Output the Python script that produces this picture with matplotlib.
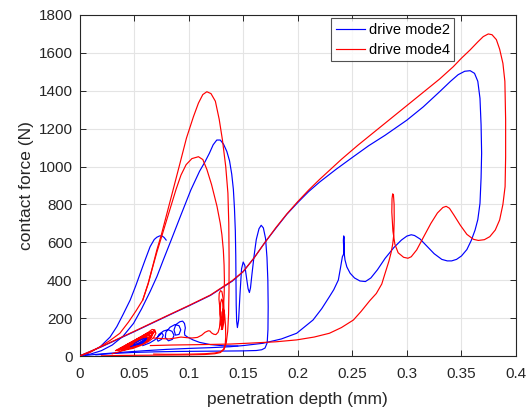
import matplotlib
matplotlib.use("Agg")
import matplotlib.pyplot as plt

plt.rcParams['font.family'] = ['Liberation Sans', 'DejaVu Sans']

BLUE = '#0000FF'
RED = '#FF0000'

# ---------------- drive mode2 (blue) ----------------
blue_main_x = [0, 0.02, 0.05, 0.08, 0.10, 0.12, 0.14, 0.15, 0.16, 0.17, 0.18, 0.19, 0.20, 0.21, 0.22,
               0.235, 0.25, 0.265, 0.28, 0.30, 0.315, 0.33, 0.34, 0.347, 0.353, 0.358, 0.362, 0.365,
               0.367, 0.368, 0.3685, 0.368, 0.367, 0.365, 0.3625, 0.359, 0.355, 0.350, 0.3455, 0.341,
               0.337, 0.332, 0.325, 0.318, 0.312, 0.307, 0.304, 0.300, 0.295, 0.288, 0.280, 0.273,
               0.267, 0.262, 0.257, 0.252, 0.248, 0.245, 0.2433, 0.2422, 0.2418, 0.2421, 0.2426,
               0.2427, 0.2422, 0.2409, 0.2390, 0.2372, 0.233, 0.229, 0.222, 0.214, 0.205, 0.199,
               0.185, 0.168, 0.150, 0.138, 0.12, 0.10, 0.08, 0.06, 0.04, 0.02, 0.005]
blue_main_y = [0, 48, 128, 210, 264, 320, 395, 445, 518, 600, 675, 748, 810, 868, 918,
               985, 1048, 1110, 1165, 1245, 1315, 1395, 1450, 1485, 1503, 1506, 1492, 1450,
               1360, 1220, 1070, 940, 806, 720, 665, 610, 562, 528, 510, 502,
               502, 510, 540, 582, 618, 636, 640, 633, 612, 572, 515, 455,
               412, 393, 396, 412, 437, 470, 507, 560, 610, 634, 625,
               580, 540, 524, 460, 401, 350, 313, 250, 190, 148, 120,
               90, 67, 55, 49, 44, 40, 35, 28, 20, 11, 3]

blue_first_x = [0, 0.008, 0.019, 0.028, 0.0342, 0.040, 0.0465, 0.0515, 0.0557, 0.060, 0.0647,
                0.0685, 0.0709, 0.0735, 0.0755, 0.0775, 0.0794]
blue_first_y = [0, 15, 49, 100, 155, 220, 296, 370, 437, 505, 577, 615, 627, 634, 634, 626, 612]

blue_second_x = [0, 0.01, 0.02, 0.03, 0.04, 0.0495, 0.057, 0.0647, 0.071, 0.077, 0.084, 0.093,
                 0.102, 0.110, 0.1150, 0.1190, 0.1225, 0.1258, 0.1290, 0.1320,
                 0.1350, 0.1375, 0.1395, 0.1410, 0.1420, 0.1428, 0.1432, 0.1434, 0.1436, 0.1440,
                 0.1447, 0.1458, 0.1470, 0.1485, 0.1500, 0.1515, 0.1530, 0.1545, 0.1557, 0.1567,
                 0.1580, 0.1600, 0.1620, 0.1645, 0.1665, 0.1685, 0.1705, 0.1718, 0.1726, 0.1729,
                 0.1727, 0.1720, 0.1700, 0.1670, 0.1620, 0.150, 0.130, 0.110, 0.090, 0.070,
                 0.050, 0.030, 0.015]
blue_second_y = [0, 10, 28, 58, 105, 172, 250, 340, 420, 510, 612, 745,
                 876, 975, 1025, 1070, 1115, 1140, 1140, 1118,
                 1080, 1030, 960, 880, 780, 660, 530, 400, 270, 185,
                 150, 190, 320, 460, 496, 478, 415, 355, 335, 360,
                 430, 530, 615, 672, 690, 676, 620, 520, 400, 260,
                 140, 70, 42, 33, 29, 27, 26, 25, 24, 22,
                 19, 13, 6]

blue_loops_x = [0.058, 0.064, 0.069, 0.0725, 0.0755, 0.0768, 0.0752, 0.0720, 0.0708, 0.0728,
                0.0770, 0.0812, 0.0848, 0.0866, 0.0852, 0.0815, 0.0786, 0.0792, 0.0830, 0.0875,
                0.0912, 0.0928, 0.0912, 0.0880, 0.0866, 0.0883, 0.0920, 0.0945, 0.0962, 0.0970,
                0.0962, 0.0965, 0.0990, 0.1040, 0.1100, 0.1200, 0.1320, 0.1450]
blue_loops_y = [55, 68, 85, 105, 121, 110, 88, 78, 92, 114,
                132, 139, 130, 110, 88, 80, 98, 126, 152, 166,
                160, 138, 114, 110, 138, 166, 181, 184, 172, 148,
                124, 110, 100, 85, 72, 60, 54, 53]

blue_inner_x = [0.047, 0.051, 0.055, 0.059, 0.0615, 0.0610, 0.0575, 0.0530, 0.0495, 0.0505,
                0.0545, 0.0590, 0.0605, 0.0580, 0.0535]
blue_inner_y = [50, 58, 70, 84, 94, 88, 75, 62, 58, 66, 80, 92, 84, 70, 60]

# ---------------- drive mode4 (red) ----------------
red_main_x = [0, 0.02, 0.05, 0.08, 0.10, 0.12, 0.14, 0.15, 0.16, 0.17, 0.18, 0.19, 0.20, 0.21,
              0.22, 0.23, 0.24, 0.255, 0.27, 0.285, 0.30, 0.315, 0.33, 0.3425, 0.35, 0.358, 0.365,
              0.370, 0.3746, 0.378, 0.382, 0.385, 0.388, 0.3898, 0.3905, 0.3905, 0.390, 0.388,
              0.385, 0.381, 0.376, 0.371, 0.3655, 0.361, 0.355, 0.349, 0.343, 0.339, 0.336, 0.333,
              0.328, 0.322, 0.315, 0.309, 0.304, 0.301, 0.297, 0.292, 0.289, 0.2872, 0.2862,
              0.2864, 0.2870, 0.2877, 0.2883, 0.2884, 0.2880, 0.2870, 0.2855, 0.2835, 0.280,
              0.277, 0.272, 0.266, 0.258, 0.251, 0.240, 0.229, 0.215, 0.199, 0.180, 0.160,
              0.138, 0.110, 0.085, 0.065]
red_main_y = [0, 50, 130, 212, 266, 322, 398, 446, 518, 600, 678, 750, 815, 876,
              932, 985, 1038, 1112, 1182, 1252, 1322, 1392, 1462, 1527, 1572, 1616, 1658,
              1686, 1700, 1696, 1670, 1620, 1545, 1450, 1246, 1050, 894, 800,
              718, 665, 630, 614, 610, 616, 642, 690, 745, 780, 790, 784,
              755, 700, 625, 560, 524, 516, 521, 545, 590, 660, 760,
              830, 856, 850, 800, 720, 640, 590, 545, 500, 436,
              380, 330, 292, 235, 190, 150, 120, 100, 85, 75, 69,
              63, 60, 58, 55]

red_peak1_x = [0, 0.010, 0.019, 0.028, 0.037, 0.045, 0.052, 0.058, 0.063, 0.067, 0.0709, 0.075,
               0.080, 0.085, 0.0922, 0.098, 0.1044, 0.109, 0.113, 0.1167, 0.1205,
               0.1245, 0.1280, 0.1310, 0.1340, 0.1360, 0.1368, 0.1371, 0.1370, 0.1366, 0.1358,
               0.1345, 0.1325, 0.1290, 0.1240, 0.1150, 0.1000, 0.0800, 0.0600, 0.0400, 0.0200]
red_peak1_y = [0, 20, 49, 82, 120, 180, 240, 296, 385, 472, 560, 640,
               750, 860, 1020, 1150, 1263, 1335, 1380, 1395, 1385,
               1345, 1250, 1140, 1000, 860, 700, 507, 350, 220, 130,
               70, 35, 18, 12, 8, 6, 5, 4, 3, 1]

red_peak2_x = [0.058, 0.063, 0.067, 0.071, 0.075, 0.080, 0.0885, 0.093, 0.0977, 0.1030,
               0.1090, 0.1130, 0.1167, 0.1210, 0.1260, 0.1290, 0.1305, 0.1318, 0.1325, 0.1328,
               0.1326, 0.1320, 0.1312, 0.1305, 0.1300]
red_peak2_y = [296, 382, 468, 550, 625, 720, 880, 955, 1010, 1042,
               1052, 1037, 985, 905, 790, 700, 640, 560, 480, 400,
               330, 260, 200, 160, 140]

red_wiggle_x = [0.068, 0.075, 0.082, 0.088, 0.093, 0.098, 0.103, 0.108, 0.112, 0.115, 0.118,
                0.1195, 0.121, 0.123, 0.125, 0.127, 0.1283, 0.1290, 0.1285, 0.1278, 0.1280,
                0.1292, 0.1305, 0.1317, 0.1325, 0.1322, 0.1310, 0.1298, 0.1290, 0.1293,
                0.1302, 0.1312, 0.1316, 0.1312, 0.1303, 0.1300, 0.1305, 0.1318, 0.1330,
                0.1338, 0.1340, 0.1335, 0.1320, 0.1290, 0.1240, 0.1150, 0.1020, 0.0900,
                0.0780, 0.0680]
red_wiggle_y = [95, 92, 90, 95, 100, 97, 95, 98, 110, 125, 133,
                132, 122, 115, 113, 125, 150, 200, 260, 300, 330,
                345, 340, 300, 240, 175, 140, 160, 220, 280,
                300, 285, 230, 170, 140, 180, 230, 250, 220,
                160, 100, 60, 35, 22, 16, 12, 10, 9,
                9, 10]

red_cluster_x = [0.030, 0.038, 0.046, 0.054, 0.060, 0.065, 0.0675, 0.0665, 0.0625, 0.0560,
                 0.0480, 0.0410, 0.0350, 0.0330, 0.0380, 0.0460, 0.0540, 0.0600, 0.0650,
                 0.0685, 0.0690, 0.0660, 0.0610, 0.0540, 0.0460, 0.0395, 0.0355, 0.0370,
                 0.0430, 0.0510, 0.0580, 0.0630, 0.0665, 0.0690, 0.0700, 0.0680, 0.0630,
                 0.0560, 0.0490, 0.0420, 0.0380, 0.0410, 0.0480, 0.0550, 0.0610, 0.0650,
                 0.0670, 0.0660, 0.0620, 0.0555, 0.0485, 0.0430, 0.0410, 0.0450, 0.0520,
                 0.0590, 0.0640, 0.0660, 0.0640, 0.0590, 0.0520, 0.0465, 0.0450, 0.0500,
                 0.0570, 0.0620, 0.0640, 0.0610, 0.0550, 0.0490, 0.0470, 0.0510, 0.0570,
                 0.0615]
red_cluster_y = [12, 25, 42, 62, 82, 102, 118, 128, 122, 100,
                 75, 52, 35, 28, 36, 55, 78, 100, 120,
                 135, 128, 112, 90, 68, 48, 34, 30, 40,
                 60, 85, 108, 125, 140, 138, 120, 98, 75,
                 55, 40, 32, 34, 48, 70, 92, 112, 122,
                 118, 100, 80, 60, 46, 40, 46, 62, 82,
                 100, 112, 104, 88, 70, 55, 50, 58, 75,
                 92, 100, 94, 80, 64, 56, 60, 76, 90,
                 95]

legend_labels = ['drive mode2', 'drive mode4']
x_ticks = [0, 0.05, 0.1, 0.15, 0.2, 0.25, 0.3, 0.35, 0.4]
x_tick_labels = ['0', '0.05', '0.1', '0.15', '0.2', '0.25', '0.3', '0.35', '0.4']
y_ticks = [0, 200, 400, 600, 800, 1000, 1200, 1400, 1600, 1800]

fig = plt.figure(figsize=(5.31, 4.09), dpi=100)
ax = fig.add_axes([79.5 / 531, 1 - 356 / 409, (516 - 79.5) / 531, (356 - 15) / 409])

lw = 0.85
hb, = ax.plot(blue_main_x, blue_main_y, color=BLUE, lw=lw, zorder=3)
ax.plot(blue_first_x, blue_first_y, color=BLUE, lw=lw, zorder=3)
ax.plot(blue_second_x, blue_second_y, color=BLUE, lw=lw, zorder=3)
ax.plot(blue_loops_x, blue_loops_y, color=BLUE, lw=lw, zorder=3)
ax.plot(blue_inner_x, blue_inner_y, color=BLUE, lw=lw, zorder=4)

hr, = ax.plot(red_main_x, red_main_y, color=RED, lw=lw, zorder=3)
ax.plot(red_peak1_x, red_peak1_y, color=RED, lw=lw, zorder=3)
ax.plot(red_peak2_x, red_peak2_y, color=RED, lw=lw, zorder=3)
ax.plot(red_wiggle_x, red_wiggle_y, color=RED, lw=lw, zorder=3)
ax.plot(red_cluster_x, red_cluster_y, color=RED, lw=lw, zorder=3)

ax.set_xlim(0, 0.4)
ax.set_ylim(0, 1800)
ax.set_xticks(x_ticks)
ax.set_xticklabels(x_tick_labels)
ax.set_yticks(y_ticks)
ax.grid(True, color='#e4e4e4', lw=0.8)
ax.set_axisbelow(True)
ax.tick_params(direction='in', length=4.5, width=0.7, top=True, right=True,
               labelsize=11, colors='#262626')
ax.tick_params(axis='x', pad=8)
ax.tick_params(axis='y', pad=5)
for s in ax.spines.values():
    s.set_color('#262626')
    s.set_linewidth(0.8)

ax.set_xlabel('penetration depth (mm)', fontsize=12.5, color='#262626', labelpad=8)
ax.set_ylabel('contact force (N)', fontsize=12.5, color='#262626', labelpad=3)

leg = ax.legend([hb, hr], legend_labels, loc='upper right', bbox_to_anchor=(0.858, 0.99),
                fontsize=10.5, frameon=True, fancybox=False, edgecolor='#262626',
                handlelength=2.0, handletextpad=0.27, borderpad=0.3, labelspacing=0.4,
                borderaxespad=0.0)
leg.get_frame().set_linewidth(0.8)

fig.savefig('out.png', dpi=100)
